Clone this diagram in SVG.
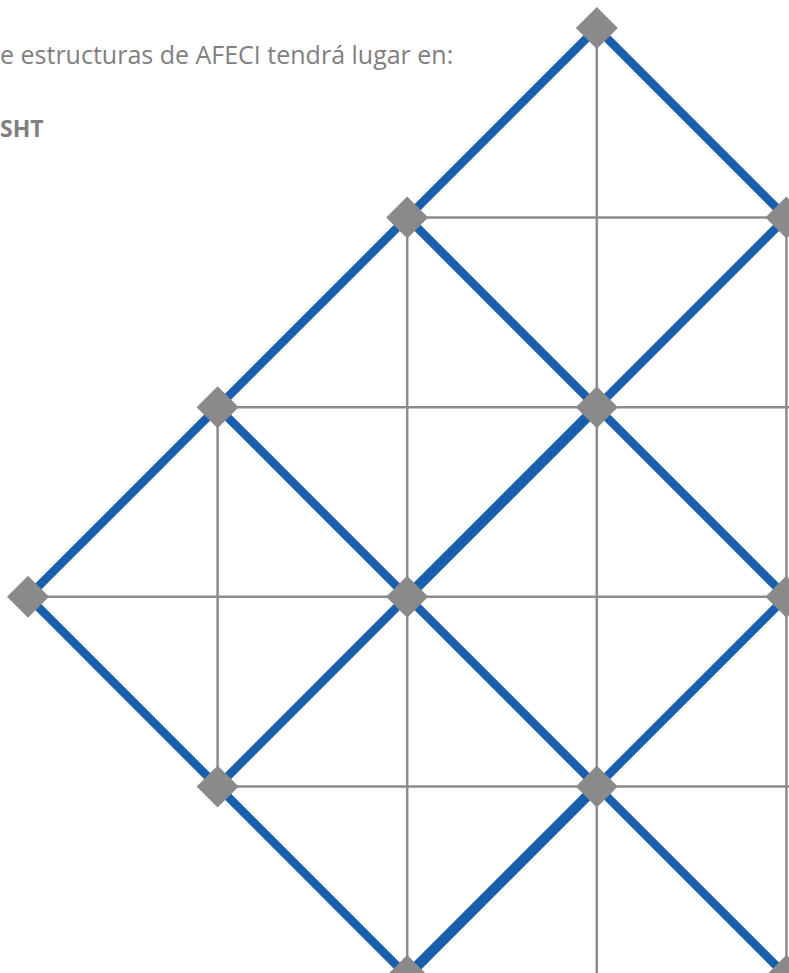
<svg xmlns="http://www.w3.org/2000/svg" xmlns:xlink="http://www.w3.org/1999/xlink" width="789" height="973" viewBox="0 0 789 973">
<style>
.txt{font-family:"Open Sans","Liberation Sans",sans-serif;fill:#808080;font-size:25px}
.b{font-weight:bold;font-size:23px}
.grid line{stroke:#8c8c8c;stroke-width:2.5}
.blue line{stroke:#1a5fad;stroke-width:8.5;stroke-linecap:butt}
.blue line.thick{stroke-width:10.5}
.node{fill:#8a8a8a}
</style>
<defs>
<polygon id="dia" points="0,-21 21,0 0,21 -21,0"/>
</defs>
<rect width="789" height="973" fill="#ffffff"/>
<text class="txt" x="0" y="64">e estructuras de AFECI tendrá lugar en:</text>
<text class="txt b" x="0" y="137">SHT</text>
<g id="connectors">
<g class="grid">
<line x1="217.6" y1="407.2" x2="217.6" y2="786.4"/>
<line x1="407.2" y1="217.6" x2="407.2" y2="976"/>
<line x1="596.8" y1="28" x2="596.8" y2="976"/>
<line x1="786.4" y1="217.6" x2="786.4" y2="976"/>
<line x1="407.2" y1="217.6" x2="786.4" y2="217.6"/>
<line x1="217.6" y1="407.2" x2="800" y2="407.2"/>
<line x1="28" y1="596.8" x2="800" y2="596.8"/>
<line x1="217.6" y1="786.4" x2="800" y2="786.4"/>
</g>
<g class="blue">
<line x1="596.8" y1="28" x2="28" y2="596.8"/>
<line x1="820" y1="184" x2="596.8" y2="407.2"/>
<line class="thick" x1="596.8" y1="407.2" x2="407.2" y2="596.8"/>
<line x1="407.2" y1="596.8" x2="217.6" y2="786.4"/>
<line x1="820" y1="563.2" x2="596.8" y2="786.4"/>
<line class="thick" x1="596.8" y1="786.4" x2="400" y2="983.2"/>
<line x1="28" y1="596.8" x2="410" y2="978.8"/>
<line x1="217.6" y1="407.2" x2="790" y2="979.6"/>
<line x1="407.2" y1="217.6" x2="800" y2="610.4"/>
<line x1="596.8" y1="28" x2="800" y2="231.2"/>
</g>
</g>
<g id="n-0-3"><use xlink:href="#dia" class="node" x="596.8" y="28"/></g>
<g id="n-1-2"><use xlink:href="#dia" class="node" x="407.2" y="217.6"/></g>
<g id="n-1-4"><use xlink:href="#dia" class="node" x="786.4" y="217.6"/></g>
<g id="n-2-1"><use xlink:href="#dia" class="node" x="217.6" y="407.2"/></g>
<g id="n-2-3"><use xlink:href="#dia" class="node" x="596.8" y="407.2"/></g>
<g id="n-3-0"><use xlink:href="#dia" class="node" x="28" y="596.8"/></g>
<g id="n-3-2"><use xlink:href="#dia" class="node" x="407.2" y="596.8"/></g>
<g id="n-3-4"><use xlink:href="#dia" class="node" x="786.4" y="596.8"/></g>
<g id="n-4-1"><use xlink:href="#dia" class="node" x="217.6" y="786.4"/></g>
<g id="n-4-3"><use xlink:href="#dia" class="node" x="596.8" y="786.4"/></g>
<g id="n-5-2"><use xlink:href="#dia" class="node" x="407.2" y="976"/></g>
<g id="n-5-4"><use xlink:href="#dia" class="node" x="786.4" y="976"/></g>
</svg>
